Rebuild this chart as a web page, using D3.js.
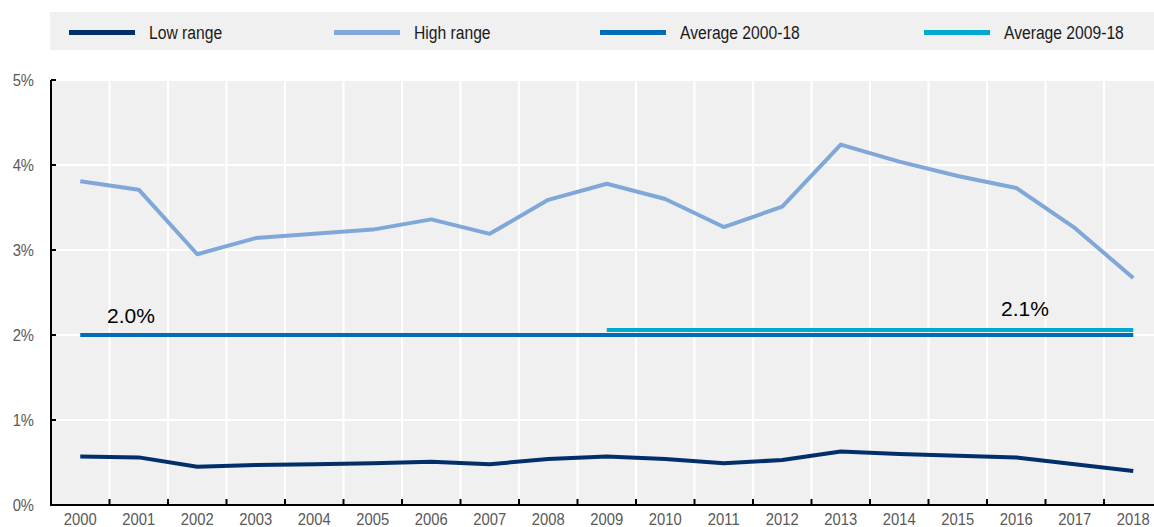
<!DOCTYPE html>
<html>
<head>
<meta charset="utf-8">
<script src="https://cdn.jsdelivr.net/npm/d3@7"></script>
<style>
  body { margin: 0; background: #fff; }
  svg text { font-family: "Liberation Sans", Arial, sans-serif; }
</style>
</head>
<body>
<svg id="chart" width="1154" height="527"></svg>
<script>
// Data
const years = ["2000","2001","2002","2003","2004","2005","2006","2007","2008","2009",
               "2010","2011","2012","2013","2014","2015","2016","2017","2018"];
const highRange = [3.81, 3.71, 2.95, 3.14, 3.19, 3.24, 3.36, 3.19, 3.59, 3.78,
                   3.60, 3.27, 3.51, 4.24, 4.04, 3.87, 3.73, 3.26, 2.67];
const lowRange = [0.57, 0.56, 0.45, 0.47, 0.48, 0.49, 0.51, 0.48, 0.54, 0.57,
                  0.54, 0.49, 0.53, 0.63, 0.60, 0.58, 0.56, 0.48, 0.40];
const avgAll = {from: "2000", to: "2018", value: 2.0, label: "2.0%"};
const avgRecent = {from: "2009", to: "2018", value: 2.06, label: "2.1%"};
const yTicks = [0, 1, 2, 3, 4, 5];
const legendItems = [
  {name: "Low range", color: "#002f6c"},
  {name: "High range", color: "#7fa8d9"},
  {name: "Average 2000-18", color: "#006bb6"},
  {name: "Average 2009-18", color: "#00aacc"}
];

var svg = d3.select("svg#chart"),
    width = +svg.attr("width"),
    height = +svg.attr("height");

var plot = {left: 51, top: 80, bottom: 505, right: 1154};
// narrow-ish look: squeeze text horizontally
const squeeze = 0.87;
const narrowAt = (x, y) => `translate(${x},${y}) scale(${squeeze},1)`;

// scales
var x = d3.scaleBand()
    .domain(years)
    .range([plot.left, plot.left + 19 * 58.5]);
var xc = d => x(d) + x.bandwidth() / 2;
var y = d3.scaleLinear()
    .domain([0, 5])
    .range([plot.bottom, plot.top]);

// legend
var legend = svg.append("g");
legend.append("rect")
    .attr("x", 50).attr("y", 12)
    .attr("width", width - 50).attr("height", 38)
    .attr("fill", "#f0f0f0");
var legendX = [69, 334, 600, 924];
legendItems.forEach((item, i) => {
  legend.append("line")
      .attr("x1", legendX[i]).attr("x2", legendX[i] + 66)
      .attr("y1", 32.5).attr("y2", 32.5)
      .attr("stroke", item.color)
      .attr("stroke-width", 5);
  legend.append("text")
      .attr("transform", narrowAt(legendX[i] + 80, 39))
      .attr("font-size", 18)
      .attr("fill", "#1a1a1a")
      .text(item.name);
});

// plot background
svg.append("rect")
    .attr("x", plot.left).attr("y", plot.top)
    .attr("width", plot.right - plot.left)
    .attr("height", plot.bottom - plot.top)
    .attr("fill", "#f0f0f0");

// grid
svg.append("g")
    .selectAll("line.h")
    .data(yTicks.slice(1))
    .enter().append("line")
    .attr("x1", plot.left).attr("x2", plot.right)
    .attr("y1", d => y(d)).attr("y2", d => y(d))
    .attr("stroke", "#fff").attr("stroke-width", 2);
svg.append("g")
    .selectAll("line.v")
    .data(years.slice(1))
    .enter().append("line")
    .attr("x1", d => x(d)).attr("x2", d => x(d))
    .attr("y1", plot.top).attr("y2", plot.bottom)
    .attr("stroke", "#fff").attr("stroke-width", 2);

// axes
svg.append("line")
    .attr("x1", plot.left).attr("x2", plot.left)
    .attr("y1", plot.top).attr("y2", plot.bottom)
    .attr("stroke", "#000").attr("stroke-width", 2);
svg.append("line")
    .attr("x1", plot.left - 1).attr("x2", plot.right)
    .attr("y1", plot.bottom).attr("y2", plot.bottom)
    .attr("stroke", "#000").attr("stroke-width", 2);

svg.append("g").selectAll("line")
    .data(yTicks)
    .enter().append("line")
    .attr("x1", plot.left).attr("x2", plot.left + 5)
    .attr("y1", d => y(d)).attr("y2", d => y(d))
    .attr("stroke", "#000").attr("stroke-width", 2);
svg.append("g").selectAll("text")
    .data(yTicks)
    .enter().append("text")
    .attr("transform", d => narrowAt(34, y(d) + 6))
    .attr("text-anchor", "end")
    .attr("font-size", 17)
    .attr("fill", "#595959")
    .text(d => d + "%");

svg.append("g").selectAll("line")
    .data(years.slice(1))
    .enter().append("line")
    .attr("x1", d => x(d)).attr("x2", d => x(d))
    .attr("y1", plot.bottom).attr("y2", plot.bottom - 6)
    .attr("stroke", "#000").attr("stroke-width", 2);
svg.append("g").selectAll("text")
    .data(years)
    .enter().append("text")
    .attr("transform", d => narrowAt(xc(d), 525))
    .attr("text-anchor", "middle")
    .attr("font-size", 17)
    .attr("fill", "#595959")
    .text(d => d);

// lines
var line = d3.line()
    .x((d, i) => xc(years[i]))
    .y(d => y(d));

svg.append("path")
    .datum(highRange)
    .attr("d", line)
    .attr("fill", "none")
    .attr("stroke", "#7fa8d9")
    .attr("stroke-width", 4)
    .attr("stroke-linejoin", "round");

svg.append("path")
    .datum(lowRange)
    .attr("d", line)
    .attr("fill", "none")
    .attr("stroke", "#002f6c")
    .attr("stroke-width", 4)
    .attr("stroke-linejoin", "round");

[avgAll, avgRecent].forEach((a, i) => {
  svg.append("line")
      .attr("x1", xc(a.from)).attr("x2", xc(a.to))
      .attr("y1", y(a.value)).attr("y2", y(a.value))
      .attr("stroke", i === 0 ? "#006bb6" : "#00aacc")
      .attr("stroke-width", 4);
});

// value labels
svg.append("text")
    .attr("x", 107).attr("y", y(avgAll.value) - 12)
    .attr("font-family", "Carlito, 'Open Sans', sans-serif")
    .attr("font-size", 21)
    .attr("fill", "#000")
    .text(avgAll.label);
svg.append("text")
    .attr("x", 1001).attr("y", y(avgRecent.value) - 14)
    .attr("font-family", "Carlito, 'Open Sans', sans-serif")
    .attr("font-size", 21)
    .attr("fill", "#000")
    .text(avgRecent.label);
</script>
</body>
</html>
